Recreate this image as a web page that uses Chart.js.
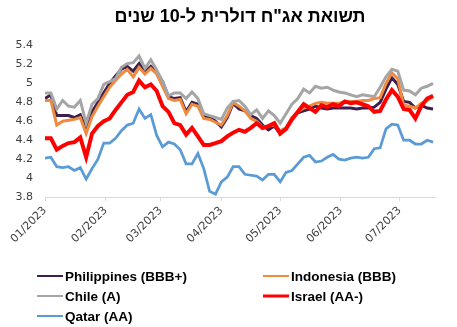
<!DOCTYPE html>
<html>
<head>
<meta charset="utf-8">
<script src="https://cdn.jsdelivr.net/npm/chart.js@4.4.1/dist/chart.umd.min.js"></script>
<style>
  html, body { margin: 0; padding: 0; background: #fff; }
  #wrap { width: 457px; height: 327px; }
</style>
</head>
<body>
<div id="wrap"><canvas id="yields"></canvas></div>
<script>
// days since 01/01/2023
const days = [0, 3, 6, 9, 12, 15, 18, 21, 24, 27, 30, 33, 36, 39, 42, 45, 48, 51, 54, 57,
  60, 63, 66, 69, 72, 75, 78, 81, 84, 87, 90, 93, 96, 99, 102, 105, 108, 111, 114, 117,
  120, 123, 126, 129, 132, 135, 138, 141, 144, 147, 150, 153, 156, 159, 162, 165, 168, 171, 174, 177,
  180, 183, 186, 189, 192, 195, 198];

const philippines = [4.84, 4.88, 4.66, 4.66, 4.66, 4.64, 4.67, 4.52, 4.70, 4.80, 4.90, 5.00, 5.08, 5.15, 5.18, 5.13, 5.21, 5.12, 5.18, 5.12,
  5.02, 4.86, 4.84, 4.85, 4.70, 4.80, 4.78, 4.65, 4.64, 4.60, 4.54, 4.64, 4.79, 4.73, 4.71, 4.66, 4.63, 4.56, 4.51, 4.55,
  4.47, 4.52, 4.63, 4.69, 4.71, 4.73, 4.76, 4.74, 4.73, 4.74, 4.74, 4.74, 4.74, 4.73, 4.74, 4.74, 4.75, 4.80, 4.94, 5.06,
  4.99, 4.81, 4.80, 4.74, 4.77, 4.74, 4.73];

const indonesia = [4.82, 4.82, 4.56, 4.60, 4.61, 4.62, 4.64, 4.47, 4.65, 4.76, 4.86, 4.96, 5.03, 5.10, 5.15, 5.07, 5.17, 5.10, 5.16, 5.10,
  4.97, 4.84, 4.82, 4.83, 4.68, 4.78, 4.76, 4.63, 4.62, 4.59, 4.56, 4.66, 4.80, 4.76, 4.71, 4.63, 4.60, 4.54, 4.55, 4.56,
  4.50, 4.53, 4.64, 4.70, 4.74, 4.76, 4.79, 4.80, 4.79, 4.79, 4.79, 4.81, 4.81, 4.81, 4.82, 4.82, 4.84, 4.85, 5.00, 5.11,
  5.05, 4.77, 4.76, 4.74, 4.79, 4.82, 4.86];

const chile = [4.90, 4.90, 4.73, 4.82, 4.76, 4.75, 4.82, 4.58, 4.78, 4.84, 4.99, 5.02, 5.05, 5.17, 5.21, 5.22, 5.29, 5.16, 5.25, 5.14,
  5.02, 4.87, 4.90, 4.90, 4.84, 4.91, 4.84, 4.68, 4.66, 4.64, 4.62, 4.74, 4.81, 4.82, 4.76, 4.67, 4.72, 4.63, 4.71, 4.66,
  4.58, 4.68, 4.78, 4.84, 4.94, 4.90, 4.97, 4.95, 4.96, 4.93, 4.91, 4.90, 4.88, 4.86, 4.88, 4.87, 4.86, 4.96, 5.07, 5.15,
  5.13, 4.93, 4.92, 4.88, 4.95, 4.97, 5.00];

const israel = [4.42, 4.42, 4.30, 4.34, 4.37, 4.38, 4.43, 4.22, 4.47, 4.55, 4.60, 4.63, 4.72, 4.80, 4.88, 4.91, 5.03, 4.96, 4.99, 4.92,
  4.76, 4.70, 4.58, 4.56, 4.46, 4.53, 4.44, 4.35, 4.35, 4.37, 4.39, 4.44, 4.48, 4.51, 4.49, 4.53, 4.58, 4.53, 4.55, 4.58,
  4.47, 4.52, 4.62, 4.70, 4.78, 4.74, 4.70, 4.77, 4.75, 4.78, 4.76, 4.81, 4.79, 4.80, 4.78, 4.76, 4.70, 4.71, 4.83, 4.93,
  4.86, 4.73, 4.72, 4.63, 4.76, 4.84, 4.87];

const qatar = [4.21, 4.22, 4.12, 4.11, 4.12, 4.08, 4.11, 3.99, 4.10, 4.20, 4.37, 4.37, 4.42, 4.50, 4.56, 4.58, 4.73, 4.63, 4.67, 4.45,
  4.33, 4.38, 4.36, 4.30, 4.15, 4.15, 4.26, 4.10, 3.86, 3.83, 3.96, 4.01, 4.12, 4.12, 4.04, 4.03, 4.02, 3.98, 4.04, 4.04,
  3.96, 4.06, 4.08, 4.15, 4.22, 4.24, 4.17, 4.18, 4.22, 4.25, 4.20, 4.19, 4.21, 4.22, 4.21, 4.22, 4.31, 4.32, 4.52, 4.57,
  4.56, 4.40, 4.40, 4.36, 4.36, 4.40, 4.38];

// first day of each month and its label
const monthStarts = [0, 31, 59, 90, 120, 151, 181];
const monthLabels = ["01/2023", "02/2023", "03/2023", "04/2023", "05/2023", "06/2023", "07/2023"];

const yTicks = [3.8, 4, 4.2, 4.4, 4.6, 4.8, 5, 5.2, 5.4];

const titleText = 'תשואת אג"ח דולרית ל-10 שנים';

function series(label, values, color, width, order) {
  return {
    label: label,
    data: days.map((d, i) => ({ x: d, y: values[i] })),
    borderColor: color,
    backgroundColor: color,
    borderWidth: width,
    pointRadius: 0,
    tension: 0,
    order: order
  };
}

// legend in two fixed columns, drawn under the axis labels
const gridLegend = {
  id: "gridLegend",
  afterDraw(chart) {
    const ctx = chart.ctx;
    const cols = [37, 263];
    const rows = [276, 296, 316];
    ctx.save();
    ctx.font = "bold 13.5px 'Liberation Sans', Arial, sans-serif";
    ctx.textBaseline = "middle";
    ctx.textAlign = "left";
    chart.data.datasets.forEach((ds, i) => {
      const x = cols[i % 2];
      const y = rows[Math.floor(i / 2)];
      ctx.strokeStyle = ds.borderColor;
      ctx.lineWidth = ds.borderWidth > 3 ? 3 : 2;
      ctx.beginPath();
      ctx.moveTo(x, y);
      ctx.lineTo(x + 26, y);
      ctx.stroke();
      ctx.fillStyle = "#000";
      ctx.fillText(ds.label, x + 28, y + 1);
    });
    ctx.restore();
  }
};

new Chart(document.getElementById("yields"), {
  type: "line",
  data: {
    datasets: [
      series("Philippines (BBB+)", philippines, "#3d1f4e", 3, 5),
      series("Indonesia (BBB)", indonesia, "#f08a3e", 3, 4),
      series("Chile (A)", chile, "#a5a5a5", 3, 3),
      series("Israel (AA-)", israel, "#ff0000", 4, 2),
      series("Qatar (AA)", qatar, "#5b9bd5", 2.75, 1)
    ]
  },
  options: {
    responsive: true,
    maintainAspectRatio: false,
    animation: false,
    layout: { padding: { left: 0, right: 22, top: 0, bottom: 70 } },
    plugins: {
      legend: { display: false },
      tooltip: { enabled: false },
      title: {
        display: true,
        text: titleText,
        fullSize: false,
        color: "#000",
        font: { family: "'Liberation Sans', Arial, sans-serif", size: 18, weight: "bold" },
        padding: { top: 6, bottom: 18 }
      }
    },
    scales: {
      x: {
        type: "linear",
        min: 0,
        max: 199,
        afterBuildTicks: s => { s.ticks = monthStarts.map(v => ({ value: v })); },
        afterFit: s => { s.height = 60; },
        border: { display: true, color: "#d9d9d9" },
        grid: { display: true, drawOnChartArea: false, drawTicks: true, tickLength: 4, color: "#d9d9d9" },
        ticks: {
          autoSkip: false,
          minRotation: 45,
          maxRotation: 45,
          color: "#404040",
          font: { family: "'DejaVu Sans', Verdana, sans-serif", size: 11 },
          callback: (v, i) => monthLabels[i]
        }
      },
      y: {
        min: 3.8,
        max: 5.4,
        afterBuildTicks: s => { s.ticks = yTicks.map(v => ({ value: v })); },
        afterFit: s => { s.width = 45; },
        border: { display: false },
        grid: { display: false, drawTicks: false },
        ticks: {
          padding: 12,
          color: "#404040",
          font: { family: "'DejaVu Sans', Verdana, sans-serif", size: 11 },
          callback: v => String(+v.toFixed(1))
        }
      }
    }
  },
  plugins: [gridLegend]
});
</script>
</body>
</html>
